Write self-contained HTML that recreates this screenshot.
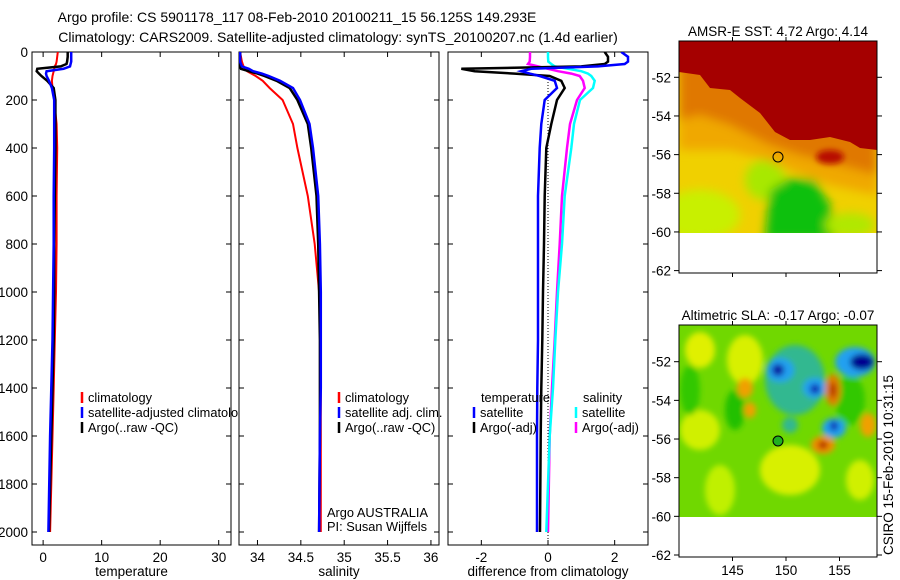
<!DOCTYPE html>
<html><head><meta charset="utf-8"><style>
body{margin:0;background:#fff}
svg{display:block;font-family:"Liberation Sans",sans-serif;font-size:13.5px}
</style></head><body>
<svg id="fig" width="900" height="580" viewBox="0 0 900 580">
<defs>
<filter id="bl" x="-20%" y="-20%" width="140%" height="140%"><feGaussianBlur stdDeviation="5"/></filter>
<filter id="bl2" x="-50%" y="-50%" width="200%" height="200%"><feGaussianBlur stdDeviation="3"/></filter>
<clipPath id="c1"><rect x="32" y="52" width="199" height="493"/></clipPath>
<clipPath id="c1L"><rect x="32" y="52" width="206" height="493"/></clipPath>
<clipPath id="c2"><rect x="239" y="52" width="200" height="493"/></clipPath>
<clipPath id="c3"><rect x="448" y="52" width="200" height="493"/></clipPath>
<clipPath id="m1"><rect x="679" y="41" width="198" height="192"/></clipPath>
<clipPath id="m2"><rect x="679" y="325" width="198" height="192"/></clipPath>
</defs>
<text x="297" y="22" text-anchor="middle" font-size="14">Argo profile: CS 5901178_117 08-Feb-2010 20100211_15 56.125S 149.293E</text>
<text x="338" y="42" text-anchor="middle" font-size="14">Climatology: CARS2009. Satellite-adjusted climatology: synTS_20100207.nc (1.4d earlier)</text>

<g id="sstmap">
<text x="778" y="36" text-anchor="middle">AMSR-E SST: 4.72 Argo: 4.14</text>
<g clip-path="url(#m1)">
<rect x="679" y="41" width="198" height="192" fill="#f0d000"/>
<g filter="url(#bl)">
<ellipse cx="700" cy="215" rx="40" ry="25" fill="#c8f000"/>
<ellipse cx="765" cy="180" rx="20" ry="20" fill="#a8e800"/>
<polygon points="770,190 790,178 815,180 830,205 835,240 765,240" fill="#10c010"/>
<ellipse cx="850" cy="225" rx="25" ry="12" fill="#b0e800"/>
<polygon points="679,60 877,60 877,195 830,185 790,170 760,158 730,150 700,150 679,150" fill="#f0a800"/>
<polygon points="679,60 877,60 877,175 840,165 800,155 770,145 730,125 700,115 679,120" fill="#e07800"/>
</g>
<polygon points="679,41 877,41 877,150 860,148 850,142 830,137 810,140 790,140 775,132 760,113 740,98 730,90 710,88 700,75 679,72" fill="#a50000"/>
<ellipse cx="830" cy="157" rx="14" ry="7" fill="#b81000" filter="url(#bl2)"/>
</g>
<circle cx="778" cy="157" r="5" fill="none" stroke="#000"/>
<rect x="679" y="41" width="198" height="232" fill="none" stroke="#000"/>
</g>

<g id="slamap">
<text x="778" y="320" text-anchor="middle">Altimetric SLA: -0.17 Argo: -0.07</text>
<g clip-path="url(#m2)">
<rect x="679" y="325" width="198" height="192" fill="#70d800"/>
<g filter="url(#bl2)">
<ellipse cx="700" cy="350" rx="15" ry="18" fill="#e0f000"/>
<ellipse cx="745" cy="360" rx="18" ry="25" fill="#d8f000"/>
<ellipse cx="700" cy="430" rx="20" ry="20" fill="#d0f000"/>
<ellipse cx="790" cy="470" rx="30" ry="25" fill="#d8f000"/>
<ellipse cx="720" cy="490" rx="15" ry="25" fill="#c0f000"/>
<ellipse cx="860" cy="480" rx="14" ry="20" fill="#d0f000"/>
<ellipse cx="690" cy="390" rx="10" ry="25" fill="#30c800"/>
<ellipse cx="735" cy="410" rx="10" ry="20" fill="#20c000"/>
<ellipse cx="850" cy="400" rx="15" ry="25" fill="#30c800"/>
<ellipse cx="795" cy="380" rx="30" ry="35" fill="#30b890"/>
<ellipse cx="780" cy="370" rx="14" ry="12" fill="#20a0f0"/>
<ellipse cx="815" cy="388" rx="12" ry="10" fill="#20a0f0"/>
<ellipse cx="855" cy="362" rx="20" ry="15" fill="#20a0f0"/>
<ellipse cx="834" cy="428" rx="12" ry="10" fill="#20a0f0"/>
<ellipse cx="778" cy="370" rx="6" ry="6" fill="#1010a0"/>
<ellipse cx="815" cy="389" rx="5" ry="5" fill="#1020b0"/>
<ellipse cx="862" cy="362" rx="12" ry="8" fill="#000090"/>
<ellipse cx="834" cy="426" rx="4" ry="5" fill="#1020b0"/>
<ellipse cx="745" cy="388" rx="8" ry="10" fill="#f0a000"/>
<ellipse cx="750" cy="410" rx="6" ry="8" fill="#f0a000"/>
<ellipse cx="833" cy="390" rx="8" ry="16" fill="#e08000"/>
<ellipse cx="833" cy="390" rx="3" ry="8" fill="#b02000"/>
<ellipse cx="823" cy="445" rx="12" ry="9" fill="#f09000"/>
<ellipse cx="823" cy="445" rx="5" ry="4" fill="#b02000"/>
<ellipse cx="868" cy="425" rx="8" ry="12" fill="#f0a000"/>
<ellipse cx="790" cy="425" rx="8" ry="8" fill="#30b890"/>
</g>
</g>
<circle cx="778" cy="441" r="5" fill="#20b020" stroke="#000"/>
<rect x="679" y="325" width="198" height="232" fill="none" stroke="#000"/>
</g>

<text transform="translate(893,465) rotate(-90)" text-anchor="middle">CSIRO 15-Feb-2010 10:31:15</text>
<g id="gp"></g>
</svg>
<script>
const depths = [0,20,40,50,60,70,80,90,100,120,150,200,300,400,600,800,1000,1200,1400,1600,2000];
const tempClim = [2.5,2.4,2.3,2.2,2.0,1.9,1.8,1.7,1.6,1.5,1.6,1.9,2.3,2.4,2.3,2.3,2.2,2.0,1.8,1.6,1.2];
const tempArgo = [4.2,4.2,4.1,4.0,3.0,-1.0,-1.1,-0.7,-0.3,0.7,1.8,2.1,2.1,2.1,2.0,1.9,1.9,1.8,1.6,1.4,1.0];
const tempSat = [4.8,4.8,4.8,4.7,4.6,3.5,0.6,0.5,0.6,1.0,1.5,1.9,1.9,1.9,1.8,1.8,1.7,1.6,1.4,1.2,0.9];
const salClim = [33.8,33.81,33.82,33.83,33.84,33.86,33.88,33.93,33.98,34.06,34.14,34.29,34.41,34.46,34.58,34.66,34.71,34.73,34.73,34.73,34.73];
const salArgo = [33.8,33.8,33.8,33.8,33.8,33.81,33.9,34.0,34.08,34.22,34.37,34.46,34.58,34.62,34.68,34.7,34.71,34.72,34.72,34.72,34.71];
const salSat = [33.8,33.8,33.8,33.81,33.82,33.9,33.95,34.05,34.13,34.26,34.41,34.49,34.6,34.64,34.7,34.72,34.73,34.73,34.73,34.72,34.71];
const dTempSat = [2.2,2.4,2.4,2.3,1.5,-0.5,-0.8,-0.55,-0.25,0.2,0.27,-0.1,-0.2,-0.25,-0.3,-0.3,-0.3,-0.3,-0.32,-0.33,-0.33];
const dTempArgo = [1.7,1.8,1.8,1.7,1.0,-2.6,-2.2,-1.0,0.05,0.4,0.5,0.27,0.1,-0.05,-0.1,-0.12,-0.15,-0.17,-0.2,-0.22,-0.24];
const dSalSat = [0,0,0.01,0.1,0.2,0.6,1.0,1.2,1.3,1.4,1.35,0.96,0.78,0.7,0.5,0.42,0.3,0.22,0.15,0.05,-0.05];
const dSalArgo = [-0.54,-0.54,-0.55,-0.6,-0.3,0.0,0.3,0.7,0.95,1.05,1.1,0.87,0.66,0.57,0.42,0.35,0.27,0.2,0.12,0.05,0.0];
const depthTicks = [0,200,400,600,800,1000,1200,1400,1600,1800,2000];
const tempTicks = [0,10,20,30];
const salTicks = [34,34.5,35,35.5,36];
const diffTicks = [-2,0,2];
const latTicks = [-52,-54,-56,-58,-60,-62];
const lonTicks = [145,150,155];

const NS='http://www.w3.org/2000/svg';
const g=document.getElementById('gp');
function mk(t,a,p){const e=document.createElementNS(NS,t);for(const k in a)e.setAttribute(k,a[k]);(p||g).appendChild(e);return e;}
const yD=d=>52+d*0.24;
const panels=[
 {x0:32,x1:231,lo:-1.9,hi:32.1,ticks:tempTicks,label:'temperature',clip:'c1',name:'temperature-panel'},
 {x0:239,x1:439,lo:33.787,hi:36.093,ticks:salTicks,label:'salinity',clip:'c2',name:'salinity-panel'},
 {x0:448,x1:648,lo:-3,hi:3,ticks:diffTicks,label:'difference from climatology',clip:'c3',name:'difference-panel'}];
panels.forEach(p=>{p.sx=v=>p.x0+(v-p.lo)/(p.hi-p.lo)*(p.x1-p.x0);});
function line(p,vals,col,w,name){
 const pts=vals.map((v,i)=>p.sx(v).toFixed(1)+','+yD(depths[i]).toFixed(1)).join(' ');
 const e=mk('polyline',{points:pts,fill:'none',stroke:col,'stroke-width':w,'clip-path':'url(#'+p.clip+')'});
 
 
}
panels.forEach((p,pi)=>{
 const pg=mk('g',{});
 
 
 mk('rect',{x:p.x0,y:52,width:p.x1-p.x0,height:493,fill:'none',stroke:'#000'},pg);
 p.ticks.forEach(t=>{const x=p.sx(t);mk('line',{x1:x,x2:x,y1:545,y2:540,stroke:'#000'},pg);mk('line',{x1:x,x2:x,y1:52,y2:57,stroke:'#000'},pg);
  const tx=mk('text',{x:x,y:562,'text-anchor':'middle'},pg);tx.textContent=t;
  
  });
 depthTicks.forEach(d=>{const y=yD(d);mk('line',{x1:p.x0,x2:p.x0+5,y1:y,y2:y,stroke:'#000'},pg);mk('line',{x1:p.x1-5,x2:p.x1,y1:y,y2:y,stroke:'#000'},pg);
  if(pi===0){const tx=mk('text',{x:28,y:y+5,'text-anchor':'end'},pg);tx.textContent=d;
  
  }});
 const lb=mk('text',{x:(p.x0+p.x1)/2,y:576,'text-anchor':'middle'},pg);lb.textContent=p.label;
 
 
});
const P=panels;
line(P[0],tempClim,'#f00',2,'temp-climatology-line');
line(P[0],tempArgo,'#000',2.5,'temp-argo-line');
line(P[0],tempSat,'#00f',2.5,'temp-satellite-line');
line(P[1],salClim,'#f00',2,'sal-climatology-line');
line(P[1],salArgo,'#000',2.5,'sal-argo-line');
line(P[1],salSat,'#00f',2.5,'sal-satellite-line');
mk('line',{x1:P[2].sx(0),x2:P[2].sx(0),y1:yD(100),y2:545,stroke:'#000','stroke-dasharray':'1,2'});
line(P[2],dSalArgo,'#f0f',2.5,'diff-sal-argo-line');
line(P[2],dSalSat,'#0ff',2.5,'diff-sal-satellite-line');
line(P[2],dTempArgo,'#000',2.5,'diff-temp-argo-line');
line(P[2],dTempSat,'#00f',2.5,'diff-temp-satellite-line');
function leg(x,y,col,txt,clip){
 const e=mk('g',clip?{'clip-path':'url(#'+clip+')'}:{});
 
 
 mk('line',{x1:x,x2:x,y1:y-10,y2:y+1,stroke:col,'stroke-width':2.5},e);
 const t=mk('text',{x:x+6,y:y,'font-size':'12.8'},e);t.textContent=txt;
}
leg(82,402,'#f00','climatology','c1L');leg(82,417,'#00f','satellite-adjusted climatology','c1L');leg(82,432,'#000','Argo(..raw -QC)','c1L');
leg(339,402,'#f00','climatology');leg(339,417,'#00f','satellite adj. clim.');leg(339,432,'#000','Argo(..raw -QC)');
const t1=mk('text',{x:481,y:402,'font-size':'12.8'});t1.textContent='temperature';
const t2=mk('text',{x:583,y:402,'font-size':'12.8'});t2.textContent='salinity';
leg(474,417,'#00f','satellite');leg(474,432,'#000','Argo(-adj)');
leg(576,417,'#0ff','satellite');leg(576,432,'#f0f','Argo(-adj)');
const a1=mk('text',{x:327,y:517,'font-size':'12.8'});a1.textContent='Argo AUSTRALIA';
const a2=mk('text',{x:327,y:531,'font-size':'12.8'});a2.textContent='PI: Susan Wijffels';
[{top:41,bot:273,y52:77.3,lonLabels:false,n:'sst'},{top:325,bot:557,y52:361.7,lonLabels:true,n:'sla'}].forEach(m=>{
 latTicks.forEach(l=>{const y=m.y52+(-52-l)*19.33;
  mk('line',{x1:679,x2:674,y1:y,y2:y,stroke:'#000'});mk('line',{x1:877,x2:882,y1:y,y2:y,stroke:'#000'});
  const t=mk('text',{x:671,y:y+5,'text-anchor':'end'});t.textContent=l;
  
  });
 lonTicks.forEach(l=>{const x=679+(l-140)*10.7;
  mk('line',{x1:x,x2:x,y1:m.top,y2:m.top-4,stroke:'#000'});mk('line',{x1:x,x2:x,y1:m.bot,y2:m.bot+4,stroke:'#000'});
  if(m.lonLabels){const t=mk('text',{x:x,y:575,'text-anchor':'middle'});t.textContent=l;
  
  }});
});
</script>
</body></html>
